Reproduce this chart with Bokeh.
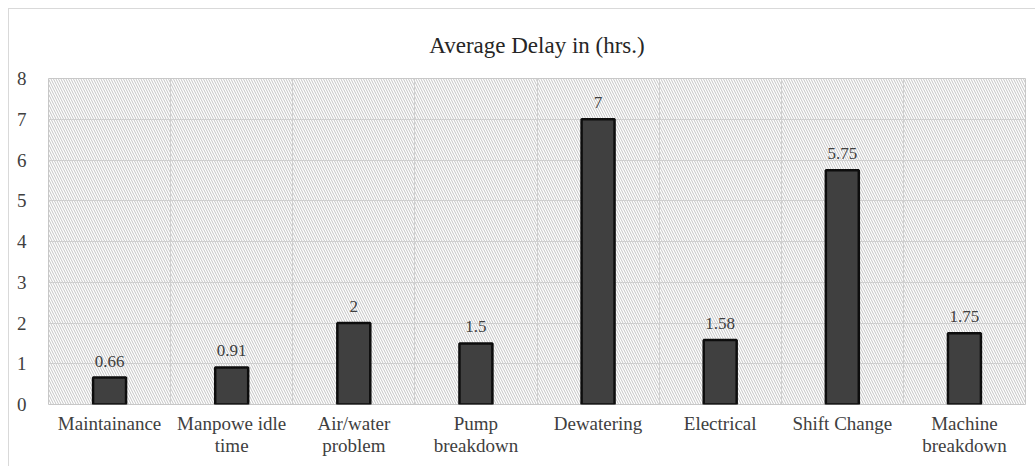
from bokeh.plotting import figure
from bokeh.models import ColumnDataSource, FixedTicker, Grid, LabelSet, Range1d
from bokeh.embed import file_html
from bokeh.resources import INLINE

title_text = "Average Delay in (hrs.)"
categories = ["Maintainance", "Manpowe idle\ntime", "Air/water\nproblem", "Pump\nbreakdown",
              "Dewatering", "Electrical", "Shift Change", "Machine\nbreakdown"]
values = [0.66, 0.91, 2, 1.5, 7, 1.58, 5.75, 1.75]
value_labels = ["0.66", "0.91", "2", "1.5", "7", "1.58", "5.75", "1.75"]
y_ticks = [0, 1, 2, 3, 4, 5, 6, 7, 8]

n = len(categories)
xs = list(range(1, n + 1))
y_max = y_ticks[-1]

p = figure(width=1027, height=458, output_backend="svg", toolbar_location=None,
           x_range=Range1d(0.5, n + 0.5), y_range=Range1d(0, y_max),
           min_border_left=39, min_border_right=11, min_border_top=69, min_border_bottom=63)
p.styles = {"border-top": "1px solid #d9d9d9", "border-left": "1px solid #d9d9d9",
            "margin-left": "8px", "margin-top": "8px", "box-sizing": "border-box"}

p.title.text = title_text
p.title.align = "center"
p.title.text_font = "Liberation Serif"
p.title.text_font_size = "23px"
p.title.text_font_style = "normal"
p.title.text_color = "#262626"
p.title.offset = -9
p.title.standoff = 42

# hatched plot background
p.quad(left=[0.5], right=[n + 0.5], bottom=[0], top=[y_max], fill_color=None, line_color=None,
       hatch_pattern="\\", hatch_color="#c4c4c4", hatch_scale=5, hatch_weight=1,
       level="image")

src = ColumnDataSource(dict(x=xs, top=values, lab=value_labels))
p.vbar(x="x", top="top", width=0.27, bottom=0, source=src,
       fill_color="#404040", line_color="#0d0d0d", line_width=2.5)

labels = LabelSet(x="x", y="top", text="lab", source=src, text_align="center",
                  text_baseline="bottom", y_offset=11, text_font="Open Sans",
                  text_font_size="17px", text_color="#404040")
p.add_layout(labels)

p.xaxis.ticker = FixedTicker(ticks=xs)
p.xaxis.major_label_overrides = {x: c for x, c in zip(xs, categories)}
p.yaxis.ticker = FixedTicker(ticks=y_ticks)
for ax in (p.xaxis, p.yaxis):
    ax.axis_line_color = None
    ax.major_tick_line_color = None
    ax.minor_tick_line_color = None
    ax.major_label_text_font = "Liberation Serif"
    ax.major_label_text_font_size = "19px"
    ax.major_label_text_color = "#404040"
p.yaxis.major_label_standoff = 16
p.xaxis.major_label_standoff = 2
p.xaxis.major_label_text_line_height = 1.05

p.xgrid.grid_line_color = None
p.ygrid.grid_line_color = "#cfcfcf"
p.ygrid.ticker = FixedTicker(ticks=y_ticks)
vgrid = Grid(dimension=0, ticker=FixedTicker(ticks=[i + 0.5 for i in range(0, n + 1)]),
             grid_line_color="#cfcfcf")
p.add_layout(vgrid)
p.outline_line_color = "#c8c8c8"
p.background_fill_color = "white"
p.border_fill_color = "white"

open("out.html", "w").write(file_html(p, INLINE))
